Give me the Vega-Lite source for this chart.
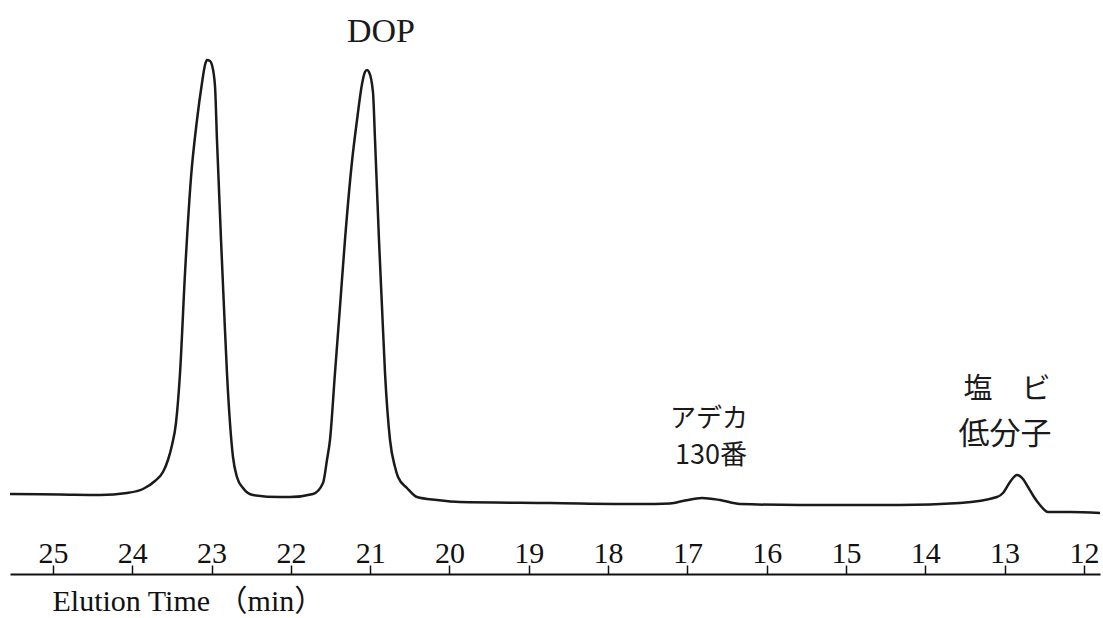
{
  "$schema": "https://vega.github.io/schema/vega-lite/v6.json",
  "width": 1090,
  "height": 574,
  "autosize": {"type": "none"},
  "padding": {"left": 10, "top": 0, "right": 3, "bottom": 44},
  "background": "white",
  "config": {"view": {"stroke": null}},
  "datasets": {
    "trace": [
      {"t": 25.542, "v": 0}, {"t": 24.912, "v": -0.5}, {"t": 24.407, "v": -1},
      {"t": 24.067, "v": 1}, {"t": 23.865, "v": 5}, {"t": 23.714, "v": 13},
      {"t": 23.613, "v": 22}, {"t": 23.55, "v": 34}, {"t": 23.499, "v": 49},
      {"t": 23.449, "v": 71}, {"t": 23.398, "v": 121}, {"t": 23.335, "v": 221},
      {"t": 23.26, "v": 316}, {"t": 23.184, "v": 374}, {"t": 23.121, "v": 411},
      {"t": 23.083, "v": 429}, {"t": 23.058, "v": 434}, {"t": 23.02, "v": 433},
      {"t": 22.995, "v": 429}, {"t": 22.957, "v": 408}, {"t": 22.932, "v": 354},
      {"t": 22.881, "v": 254}, {"t": 22.844, "v": 187}, {"t": 22.806, "v": 121},
      {"t": 22.768, "v": 71}, {"t": 22.73, "v": 37}, {"t": 22.68, "v": 17},
      {"t": 22.604, "v": 6}, {"t": 22.478, "v": -1}, {"t": 22.137, "v": -3},
      {"t": 22.011, "v": -3}, {"t": 21.721, "v": 0}, {"t": 21.595, "v": 11},
      {"t": 21.545, "v": 34}, {"t": 21.507, "v": 54}, {"t": 21.444, "v": 121},
      {"t": 21.381, "v": 187}, {"t": 21.318, "v": 254}, {"t": 21.23, "v": 332},
      {"t": 21.166, "v": 374}, {"t": 21.103, "v": 410}, {"t": 21.066, "v": 422},
      {"t": 21.04, "v": 424}, {"t": 21.015, "v": 422}, {"t": 20.965, "v": 402},
      {"t": 20.939, "v": 354}, {"t": 20.914, "v": 304}, {"t": 20.889, "v": 254},
      {"t": 20.851, "v": 187}, {"t": 20.813, "v": 121}, {"t": 20.75, "v": 54},
      {"t": 20.687, "v": 27}, {"t": 20.649, "v": 17}, {"t": 20.536, "v": 6},
      {"t": 20.41, "v": -3}, {"t": 20.158, "v": -6}, {"t": 19.868, "v": -8},
      {"t": 18.733, "v": -9}, {"t": 17.598, "v": -10}, {"t": 17.219, "v": -9.5},
      {"t": 17.03, "v": -6.5}, {"t": 16.816, "v": -4}, {"t": 16.589, "v": -6},
      {"t": 16.337, "v": -10}, {"t": 15.58, "v": -11}, {"t": 14.319, "v": -11},
      {"t": 13.562, "v": -9}, {"t": 13.096, "v": -3}, {"t": 13.02, "v": 1},
      {"t": 12.932, "v": 12}, {"t": 12.844, "v": 19}, {"t": 12.768, "v": 15},
      {"t": 12.705, "v": 7}, {"t": 12.629, "v": -3}, {"t": 12.554, "v": -11},
      {"t": 12.453, "v": -18}, {"t": 12.175, "v": -18}, {"t": 11.797, "v": -19}
    ]
  },
  "encoding": {
    "x": {
      "field": "t", "type": "quantitative",
      "scale": {"domain": [25.542, 11.797], "nice": false, "zero": false},
      "axis": {
        "title": "Elution Time （min）",
        "orient": "bottom",
        "values": [25, 24, 23, 22, 21, 20, 19, 18, 17, 16, 15, 14, 13, 12],
        "format": "d",
        "grid": false,
        "domainColor": "#111", "domainWidth": 2,
        "tickColor": "#111", "tickWidth": 1.5, "tickSize": -9,
        "labelFont": "Liberation Serif", "labelFontSize": 30, "labelColor": "#111",
        "labelPadding": -3, "labelBaseline": "alphabetic", "labelAngle": 0,
        "labelFlush": false, "labelOverlap": false,
        "titleFont": "Liberation Serif, Noto Sans CJK JP", "titleFontSize": 30, "titleFontWeight": "normal",
        "titleColor": "#111", "titleAnchor": "start", "titleAlign": "left",
        "titleX": 42, "titleY": 36, "titleBaseline": "alphabetic"
      }
    },
    "y": {
      "field": "v", "type": "quantitative",
      "scale": {"domain": [-80, 494], "nice": false, "zero": false},
      "axis": null
    }
  },
  "layer": [
    {
      "data": {"name": "trace"},
      "mark": {"type": "line", "interpolate": "monotone", "color": "#1a1a1a", "strokeWidth": 2.5}
    },
    {
      "data": {"values": [{"t": 20.864, "v": 452, "label": "DOP"}]},
      "mark": {"type": "text", "font": "Liberation Serif", "fontSize": 34, "align": "center", "baseline": "alphabetic", "color": "#1a1a1a"},
      "encoding": {"text": {"field": "label"}}
    },
    {
      "data": {"values": [{"t": 16.728, "v": 67, "label": "アデカ"}]},
      "mark": {"type": "text", "font": "Noto Sans CJK JP", "fontSize": 26, "align": "center", "baseline": "alphabetic", "color": "#1a1a1a"},
      "encoding": {"text": {"field": "label"}}
    },
    {
      "data": {"values": [{"t": 16.703, "v": 30, "label": "130番"}]},
      "mark": {"type": "text", "font": "Noto Sans CJK JP", "fontSize": 27, "align": "center", "baseline": "alphabetic", "color": "#1a1a1a"},
      "encoding": {"text": {"field": "label"}}
    },
    {
      "data": {"values": [{"t": 12.97, "v": 95, "label": "塩　ビ"}]},
      "mark": {"type": "text", "font": "Noto Sans CJK JP", "fontSize": 29, "align": "center", "baseline": "alphabetic", "color": "#1a1a1a"},
      "encoding": {"text": {"field": "label"}}
    },
    {
      "data": {"values": [{"t": 12.995, "v": 50, "label": "低分子"}]},
      "mark": {"type": "text", "font": "Noto Sans CJK JP", "fontSize": 31, "align": "center", "baseline": "alphabetic", "color": "#1a1a1a"},
      "encoding": {"text": {"field": "label"}}
    }
  ]
}
